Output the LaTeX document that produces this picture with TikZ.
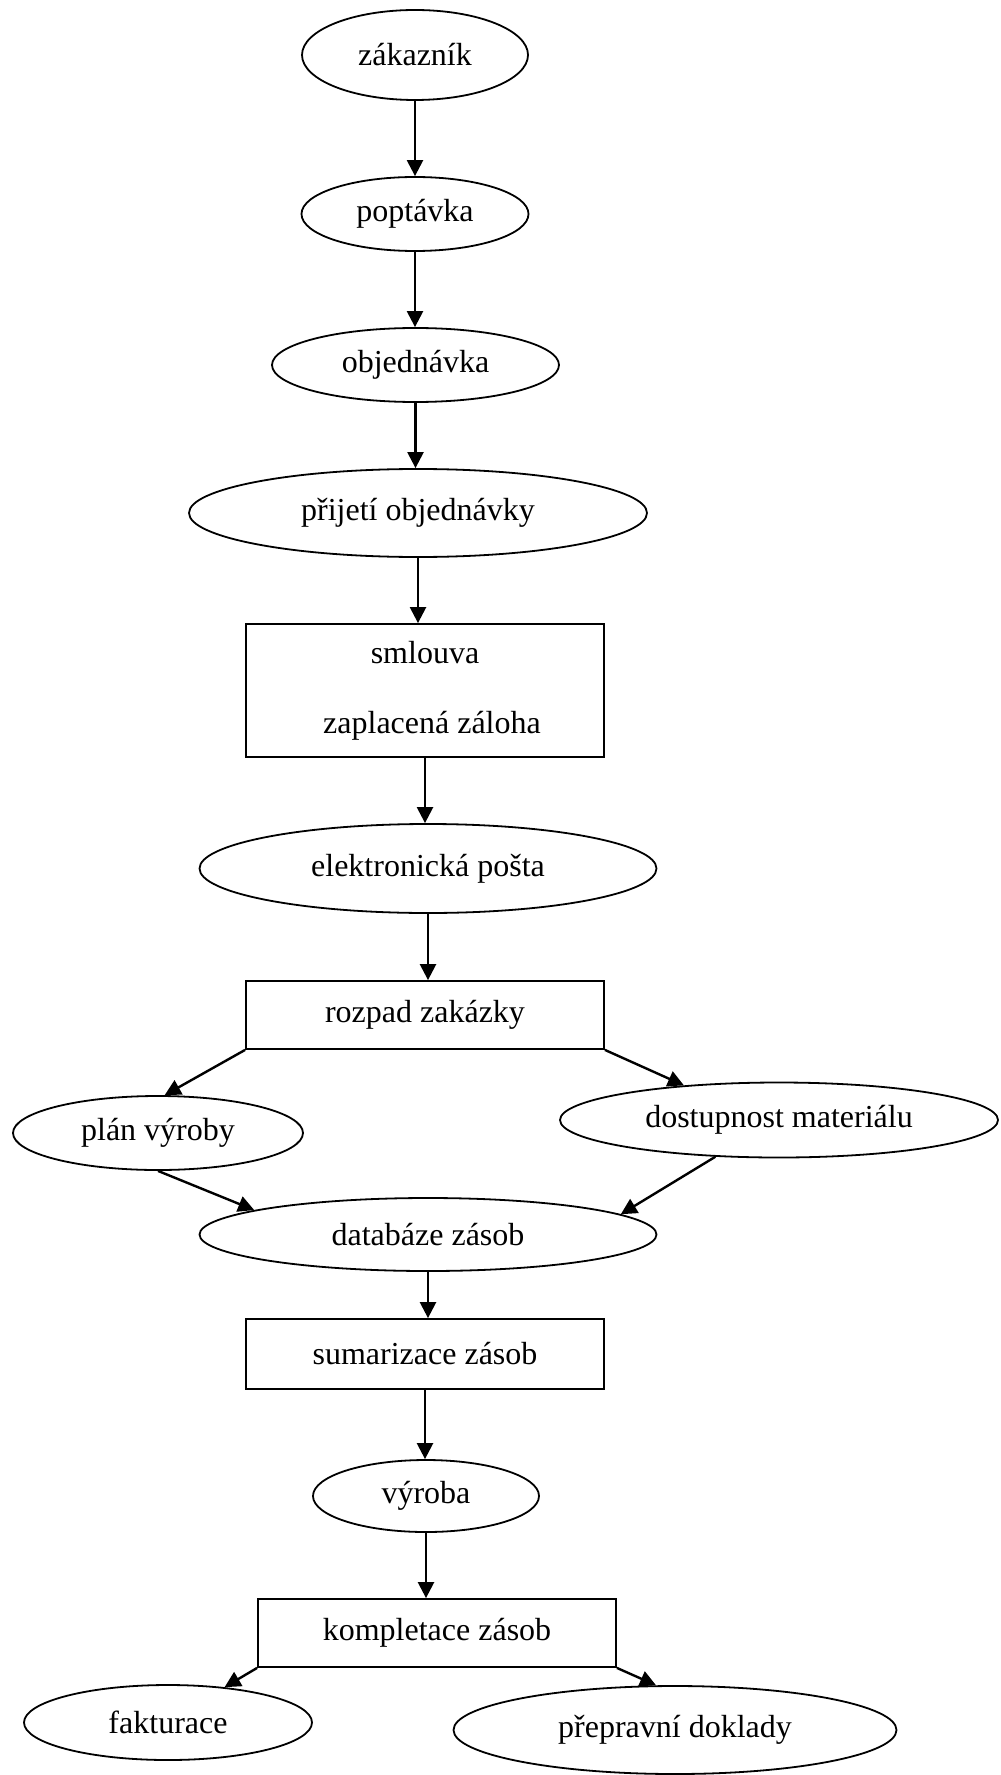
\documentclass[tikz,border=0pt]{standalone}
\usepackage{fontspec}
\setmainfont{Liberation Serif}
\usetikzlibrary{shapes.geometric,arrows.meta}
\begin{document}
\begin{tikzpicture}[x=0.5pt,y=-0.5pt,
  every node/.style={font=\fontsize{16pt}{19pt}\selectfont, inner sep=0pt},
  ell/.style={draw, ellipse, line width=0.9pt},
  box/.style={draw, rectangle, line width=0.9pt, minimum width=179pt, align=center},
  arr/.style={line width=1.2pt, -{Triangle[length=8pt,width=8pt]}}]
\useasboundingbox (0,0) rectangle (1000,1775);
\node[ell, minimum width=113pt, minimum height=45pt] (zak) at (415,55) {zákazník};
\node[ell, minimum width=113.5pt, minimum height=37pt] (pop) at (415,214) {poptávka};
\node[ell, minimum width=143.5pt, minimum height=37pt] (obj) at (415.5,365) {objednávka};
\node[ell, minimum width=229pt, minimum height=44pt] (prij) at (418,513) {přijetí objednávky};
\node[box, minimum height=66.5pt] (sml) at (425,690.5) {smlouva\\[16pt]\hspace*{7pt}zaplacená záloha};
\node[ell, minimum width=228.5pt, minimum height=44.5pt] (el) at (428,868.5) {elektronická pošta};
\node[box, minimum height=34pt] (roz) at (425,1015) {rozpad zakázky};
\node[ell, minimum width=145pt, minimum height=37pt] (plan) at (158,1133) {plán výroby};
\node[ell, minimum width=219pt, minimum height=37.5pt] (dost) at (779,1120) {dostupnost materiálu};
\node[ell, minimum width=228.5pt, minimum height=36.5pt] (db) at (428,1234.5) {databáze zásob};
\node[box, minimum height=35pt] (sum) at (425,1354) {sumarizace zásob};
\node[ell, minimum width=113pt, minimum height=36pt] (vyr) at (426,1496) {výroba};
\node[box, minimum height=34pt] (kom) at (437,1633) {kompletace zásob};
\node[ell, minimum width=144pt, minimum height=37.5pt] (fak) at (168,1722.5) {fakturace};
\node[ell, minimum width=221.5pt, minimum height=44pt] (prep) at (675,1730) {přepravní doklady};

\draw[arr] (zak.south) -- (zak.south |- pop.north);
\draw[arr] (pop.south) -- (pop.south |- obj.north);
\draw[arr] (obj.south) -- (obj.south |- prij.north);
\draw[arr] (prij.south) -- (prij.south |- sml.north);
\draw[arr] (sml.south) -- (sml.south |- el.north);
\draw[arr] (el.south) -- (el.south |- roz.north);
\draw[arr] (roz.south west) -- (plan.80);
\draw[arr] (roz.south east) -- (dost.160);
\draw[arr] (plan.south) -- (db.172);
\draw[arr] (dost.210) -- (db.6);
\draw[arr] (db.south) -- (db.south |- sum.north);
\draw[arr] (sum.south) -- (sum.south |- vyr.north);
\draw[arr] (vyr.south) -- (vyr.south |- kom.north);
\draw[arr] (kom.south west) -- (fak.32);
\draw[arr] (kom.south east) -- (prep.113);
\end{tikzpicture}
\end{document}
